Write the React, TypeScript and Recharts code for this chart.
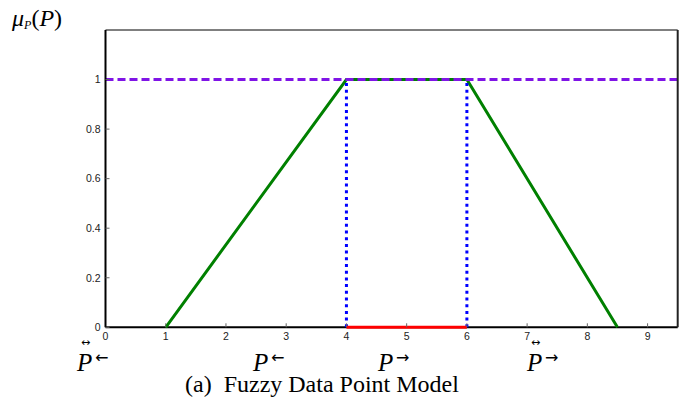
import React from "react";
import { LineChart, Line, XAxis, YAxis } from "recharts";

const xTicks = [0, 1, 2, 3, 4, 5, 6, 7, 8, 9];
const yTicks = [0, 0.2, 0.4, 0.6, 0.8, 1];

const trapezoidX = [1, 4, 6, 8.5];
const trapezoidY = [0, 1, 1, 0];
const topLineX = [0, 9.5];
const topLineY = [1, 1];
const leftEdgeX = [4, 4];
const rightEdgeX = [6, 6];
const edgeY = [0, 1];
const coreX = [4, 6];
const coreY = [0, 0];
const baseX = [0, 9.5];
const baseY = [0, 0];

const zip = (xs: number[], ys: number[]) => xs.map((x, i) => ({ x, y: ys[i] }));

const trapezoid = zip(trapezoidX, trapezoidY);
const topLine = zip(topLineX, topLineY);
const leftEdge = zip(leftEdgeX, edgeY);
const rightEdge = zip(rightEdgeX, edgeY);
const core = zip(coreX, coreY);
const base = zip(baseX, baseY);

const sans = "Liberation Sans, Arial, sans-serif";
const serif = "Liberation Serif, Times New Roman, serif";

const fmtY = (v: number) => (v === 0 ? "0" : v === 1 ? "1" : String(v));

function XTick(props: any) {
  const { x, payload } = props;
  return (
    <text x={x} y={340} textAnchor="middle" fontSize={10.5} fontFamily={sans} fill="#222">
      {String(payload.value)}
    </text>
  );
}

function YTick(props: any) {
  const { y, payload } = props;
  return (
    <text x={100.5} y={y + 3.8} textAnchor="end" fontSize={10.5} fontFamily={sans} fill="#222">
      {fmtY(payload.value)}
    </text>
  );
}

function Label({ x, arrow, dbl }: { x: number; arrow: string; dbl: boolean }) {
  return (
    <g fill="#000">
      <text x={x} y={371} fontSize={25} fontStyle="italic" fontFamily={serif}>P</text>
      {dbl && (
        <text x={x + 4} y={346} fontSize={11} fontFamily="DejaVu Sans, sans-serif">↔</text>
      )}
      <text x={x + 18} y={363} fontSize={16} fontFamily="DejaVu Sans, sans-serif">{arrow}</text>
    </g>
  );
}

export default function App() {
  return (
    <div style={{ position: "absolute", left: 0, top: 0, width: 686, height: 398, background: "#fff" }}>
      <LineChart
        width={686}
        height={398}
        margin={{ top: 29, right: 7.3, left: 75.5, bottom: 50.7 }}
      >
        <XAxis
          xAxisId="b"
          type="number"
          dataKey="x"
          domain={[0, 9.5]}
          ticks={xTicks}
          height={20}
          tickSize={-4}
          tickMargin={8}
          tick={<XTick />}
          axisLine={false}
          tickLine={{ stroke: "#666" }}
        />
        <XAxis
          xAxisId="t"
          orientation="top"
          type="number"
          dataKey="x"
          domain={[0, 9.5]}
          ticks={xTicks}
          height={1}
          tickSize={-4}
          tick={false}
          axisLine={{ stroke: "#000", strokeWidth: 1 }}
          tickLine={{ stroke: "#666" }}
        />
        <YAxis
          yAxisId="l"
          type="number"
          domain={[0, 1.2]}
          ticks={yTicks}
          width={30}
          tickSize={-4}
          tickMargin={9.5}
          tick={<YTick />}
          axisLine={{ stroke: "#000", strokeWidth: 2 }}
          tickLine={{ stroke: "#666" }}
        />
        <YAxis
          yAxisId="r"
          orientation="right"
          type="number"
          domain={[0, 1.2]}
          ticks={yTicks}
          width={1}
          tickSize={-4}
          tick={false}
          axisLine={{ stroke: "#222", strokeWidth: 2 }}
          tickLine={{ stroke: "#666" }}
        />
        <Line xAxisId="t" yAxisId="r" data={base} dataKey="y" type="linear" stroke="#000" strokeWidth={2} dot={false} activeDot={false} isAnimationActive={false} />
        <Line xAxisId="b" yAxisId="l" data={trapezoid} dataKey="y" type="linear" stroke="#008000" strokeWidth={3} dot={false} activeDot={false} isAnimationActive={false} />
        <Line xAxisId="b" yAxisId="l" data={leftEdge} dataKey="y" type="linear" stroke="#0000ff" strokeWidth={3} strokeDasharray="3 3.7" dot={false} activeDot={false} isAnimationActive={false} />
        <Line xAxisId="b" yAxisId="l" data={rightEdge} dataKey="y" type="linear" stroke="#0000ff" strokeWidth={3} strokeDasharray="3 3.7" dot={false} activeDot={false} isAnimationActive={false} />
        <Line xAxisId="b" yAxisId="l" data={core} dataKey="y" type="linear" stroke="#ff0000" strokeWidth={3} dot={false} activeDot={false} isAnimationActive={false} />
        <Line xAxisId="b" yAxisId="l" data={topLine} dataKey="y" type="linear" stroke="#7f14e6" strokeWidth={3} strokeDasharray="8 4" dot={false} activeDot={false} isAnimationActive={false} />
      </LineChart>
      <svg width={686} height={398} style={{ position: "absolute", left: 0, top: 0, pointerEvents: "none" }}>
        <g fontFamily={serif} fill="#000">
          <text x={12} y={26} fontSize={24}>
            <tspan fontStyle="italic">μ</tspan>
            <tspan fontStyle="italic" fontSize={12} dy={3}>P</tspan>
            <tspan dy={-3}>(</tspan>
            <tspan fontStyle="italic">P</tspan>
            <tspan>)</tspan>
          </text>
        </g>
        <Label x={77} arrow="←" dbl={true} />
        <Label x={253} arrow="←" dbl={false} />
        <Label x={378} arrow="→" dbl={false} />
        <Label x={527} arrow="→" dbl={true} />
        <text x={185} y={392} fontSize={24} fontFamily={serif} fill="#000" style={{ whiteSpace: "pre" }}>
          (a)  Fuzzy Data Point Model
        </text>
      </svg>
    </div>
  );
}
